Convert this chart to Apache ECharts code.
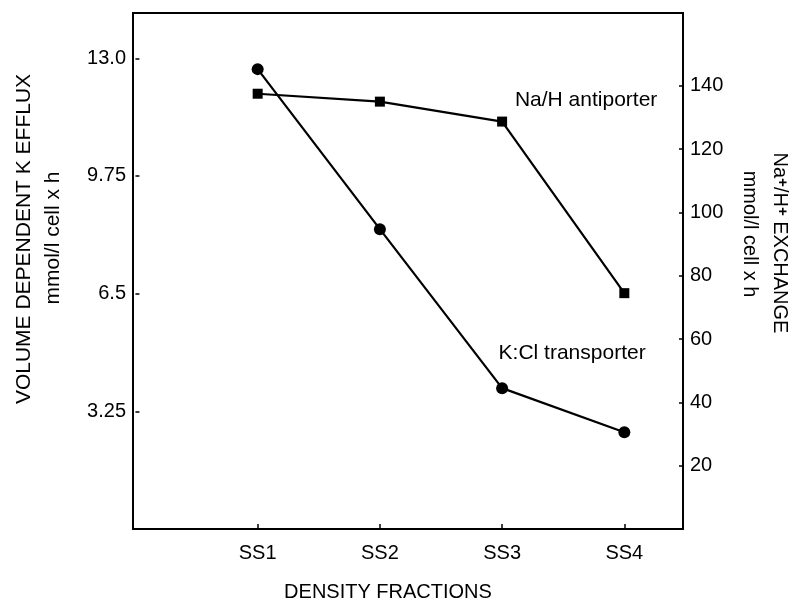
<!DOCTYPE html>
<html>
<head>
<meta charset="utf-8">
<script src="https://cdn.jsdelivr.net/npm/echarts@6/dist/echarts.min.js"></script>
<style>html,body{margin:0;padding:0;background:#fff}#c{width:792px;height:609px}</style>
</head>
<body>
<div id="c"></div>
<script>
// ---- data ----
const categories = ['SS1', 'SS2', 'SS3', 'SS4'];
const categoryPositions = [1, 2, 3, 4];
const kclValues = [12.70, 8.28, 3.89, 2.67];      // left axis, K:Cl transporter (circles)
const nahValues = [137.5, 135.0, 128.7, 74.5];    // right axis, Na/H antiporter (squares)
const leftTicks = [3.25, 6.5, 9.75, 13.0];
const leftTickLabels = ['3.25', '6.5', '9.75', '13.0'];
const rightTicks = [20, 40, 60, 80, 100, 120, 140];
const kclName = 'K:Cl transporter';
const nahName = 'Na/H antiporter';
const xTitle = 'DENSITY FRACTIONS';
const leftTitle = 'VOLUME DEPENDENT K EFFLUX';
const unitTitle = 'mmol/l cell x h';

const FONT = 'Liberation Sans';
const chart = echarts.init(document.getElementById('c'), null, {renderer: 'canvas'});

const labelText = {color: '#000', fontFamily: FONT, fontSize: 20};

const option = {
  backgroundColor: '#fff',
  animation: false,
  grid: {left: 133, right: 109, top: 13, bottom: 80, show: true, borderColor: '#000', borderWidth: 2},
  xAxis: {
    type: 'value', min: -0.02, max: 4.48,
    axisLine: {show: false},
    splitLine: {show: false},
    axisTick: {show: true, inside: true, length: 5, customValues: categoryPositions, lineStyle: {color: '#000', width: 1.5}},
    axisLabel: Object.assign({}, labelText, {
      customValues: categoryPositions, margin: 14,
      formatter: v => categories[categoryPositions.indexOf(v)] || ''
    })
  },
  yAxis: [
    {
      type: 'value', position: 'left', min: 0, max: 14.25,
      axisLine: {show: false}, splitLine: {show: false},
      axisTick: {show: true, inside: true, length: 4, customValues: leftTicks, lineStyle: {color: '#000', width: 1.5}},
      axisLabel: Object.assign({}, labelText, {
        customValues: leftTicks, margin: 7,
        formatter: v => leftTickLabels[leftTicks.indexOf(v)] || ''
      })
    },
    {
      type: 'value', position: 'right', min: 0, max: 163,
      axisLine: {show: false}, splitLine: {show: false},
      axisTick: {show: true, inside: true, length: 4, customValues: rightTicks, lineStyle: {color: '#000', width: 1.5}},
      axisLabel: Object.assign({}, labelText, {customValues: rightTicks, margin: 7})
    }
  ],
  series: [
    {
      name: kclName, type: 'line', yAxisIndex: 0,
      symbol: 'circle', symbolSize: 12,
      lineStyle: {color: '#000', width: 2.2}, itemStyle: {color: '#000'},
      data: kclValues.map((v, i) => ({
        value: [categoryPositions[i], v],
        label: i === 2 ? {show: true, formatter: kclName, position: 'inside', offset: [70, -35],
          color: '#000', fontFamily: FONT, fontSize: 21} : {show: false}
      }))
    },
    {
      name: nahName, type: 'line', yAxisIndex: 1,
      symbol: 'rect', symbolSize: 10,
      lineStyle: {color: '#000', width: 2.2}, itemStyle: {color: '#000'},
      data: nahValues.map((v, i) => ({
        value: [categoryPositions[i], v],
        label: i === 2 ? {show: true, formatter: nahName, position: 'inside', offset: [84, -21],
          color: '#000', fontFamily: FONT, fontSize: 21} : {show: false}
      }))
    }
  ],
  graphic: [
    {type: 'text', x: 24, y: 239, rotation: Math.PI / 2,
      style: {text: leftTitle, x: 0, y: 0, align: 'center', verticalAlign: 'middle', fill: '#000', font: '21px "' + FONT + '"'}},
    {type: 'text', x: 53, y: 238, rotation: Math.PI / 2,
      style: {text: unitTitle, x: 0, y: 0, align: 'center', verticalAlign: 'middle', fill: '#000', font: '21px "' + FONT + '"'}},
    {type: 'text', x: 780, y: 243, rotation: -Math.PI / 2,
      style: {text: '{b|Na}{s|+}{b|/H}{s|+}{b| EXCHANGE}', x: 0, y: 0, align: 'center', verticalAlign: 'middle', fill: '#000',
        rich: {
          b: {fontFamily: FONT, fontSize: 20, fill: '#000', verticalAlign: 'bottom'},
          s: {fontFamily: FONT, fontSize: 15, fontWeight: 'bold', fill: '#000', verticalAlign: 'top'}
        }}},
    {type: 'text', x: 750, y: 234, rotation: -Math.PI / 2,
      style: {text: unitTitle, x: 0, y: 0, align: 'center', verticalAlign: 'middle', fill: '#000', font: '20px "' + FONT + '"'}},
    {type: 'text', x: 388, y: 592,
      style: {text: xTitle, x: 0, y: 0, align: 'center', verticalAlign: 'middle', fill: '#000', font: '20px "' + FONT + '"'}}
  ]
};
chart.setOption(option);
</script>
</body>
</html>
